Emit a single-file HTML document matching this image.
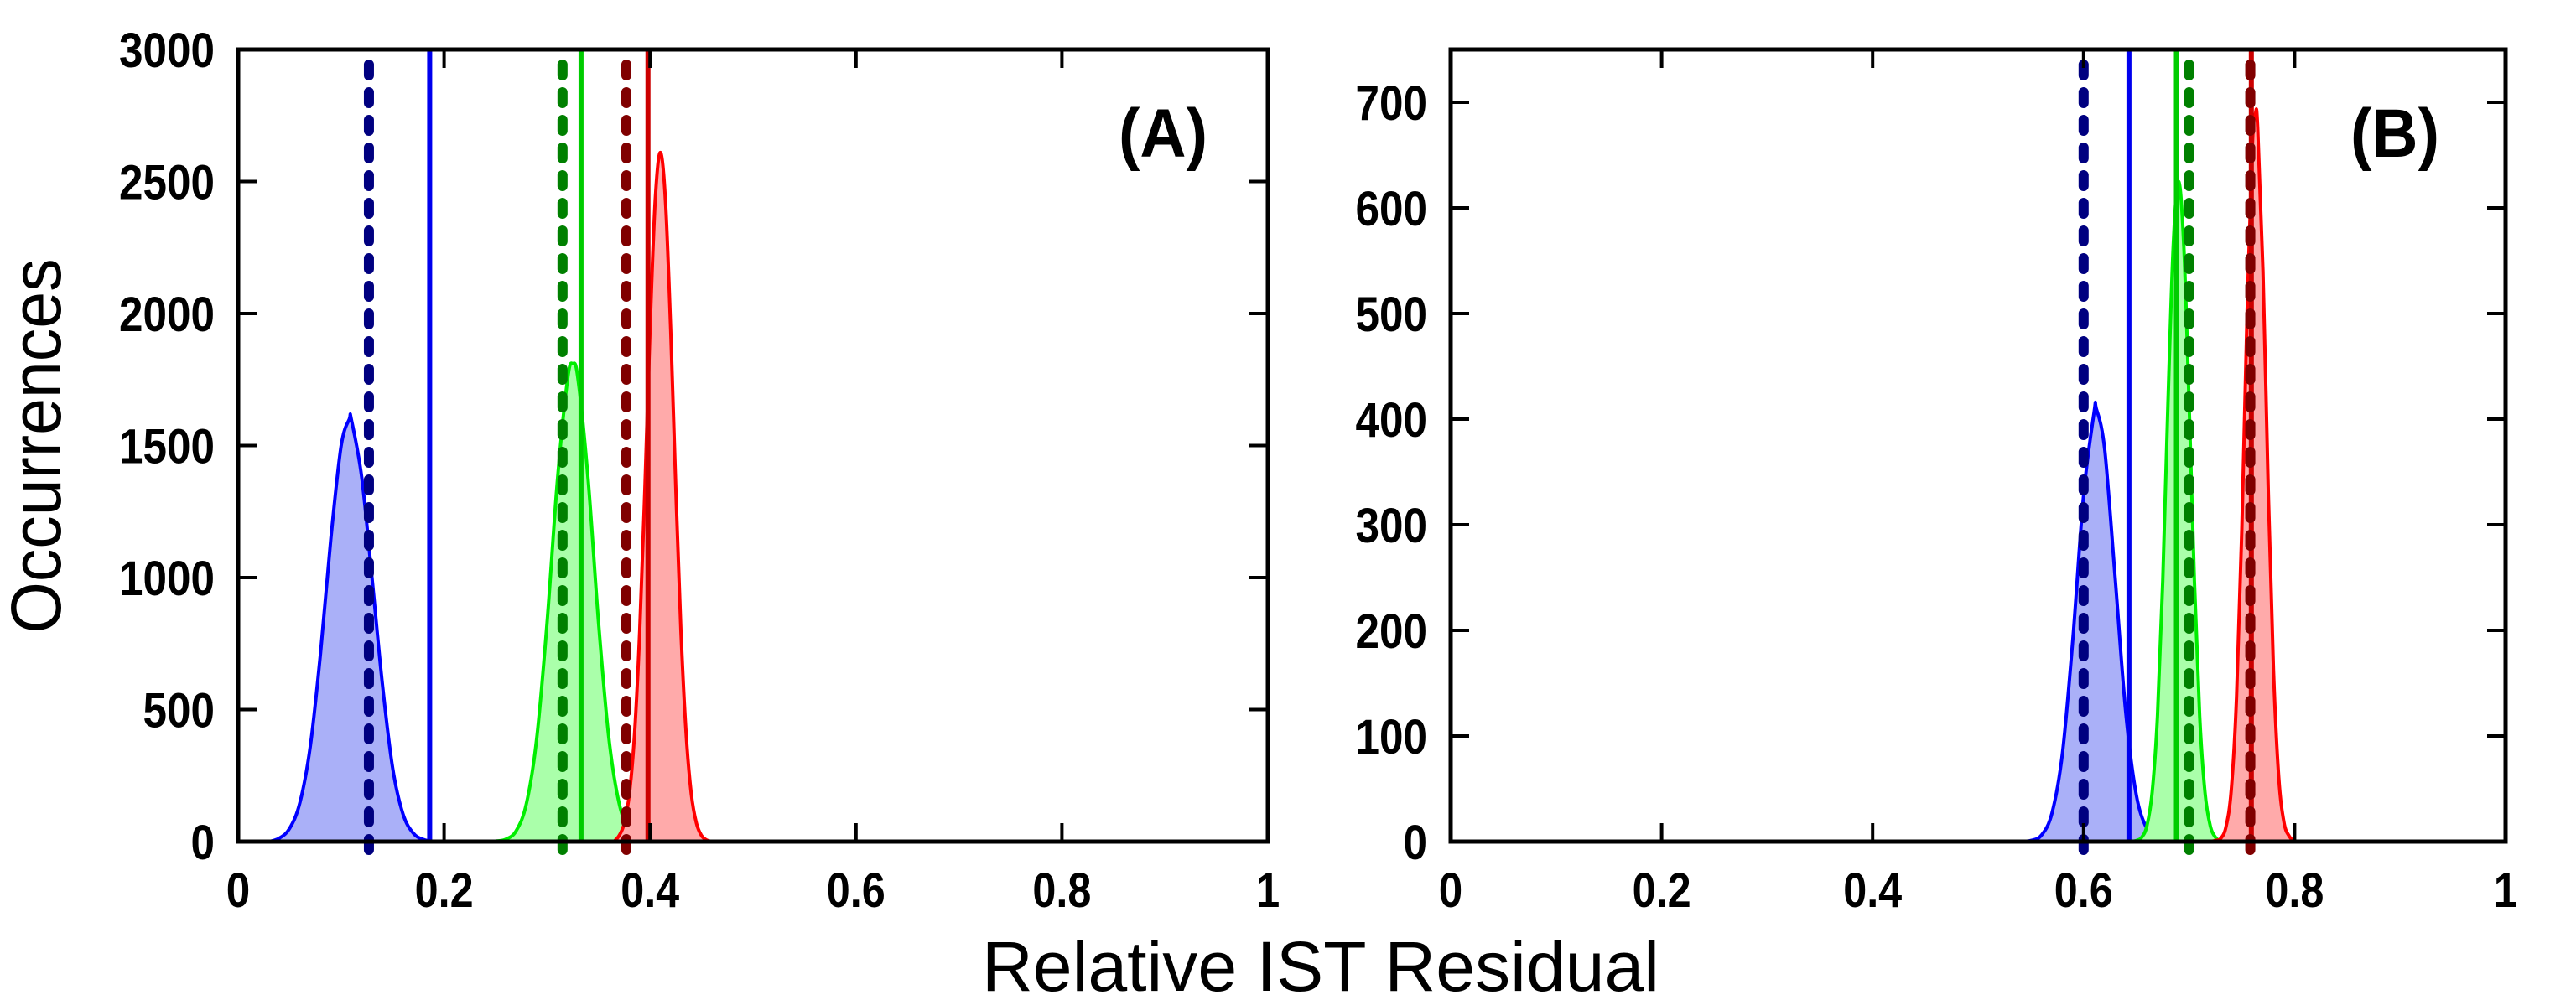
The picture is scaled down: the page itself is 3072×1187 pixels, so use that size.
<!DOCTYPE html>
<html><head><meta charset="utf-8"><style>
html,body{margin:0;padding:0;background:#fff;}
svg{display:block;font-family:"Liberation Sans",sans-serif;}
</style></head><body>
<svg id="chart" width="3072" height="1187" viewBox="0 0 3072 1187" xmlns="http://www.w3.org/2000/svg">
<rect width="3072" height="1187" fill="#fff"/>
<g id="panelA"></g>
<g id="panelB"></g>
<text transform="translate(72,532) rotate(-90)" text-anchor="middle" font-size="84" textLength="447" lengthAdjust="spacingAndGlyphs">Occurrences</text>
<text x="1575" y="1182" text-anchor="middle" font-size="84" textLength="808" lengthAdjust="spacingAndGlyphs">Relative IST Residual</text>
</svg>
<script>
// ---- Panel A data ----
const aBlueX = [0.03,0.04,0.05,0.06,0.07,0.08,0.09,0.10,0.108,0.11,0.12,0.13,0.14,0.15,0.16,0.17,0.18,0.19];
const aBlueY = [0,13,50,148,360,712,1145,1498,1600,1597,1379,1000,600,280,105,32,8,0];
const aGreenX = [0.24,0.25,0.26,0.27,0.28,0.29,0.30,0.31,0.32,0.325,0.33,0.34,0.35,0.36,0.37,0.38,0.39];
const aGreenY = [0,2,9,41,144,392,829,1366,1754,1810,1754,1366,829,392,144,41,0];
const aRedX = [0.365,0.37,0.375,0.38,0.385,0.39,0.395,0.40,0.405,0.41,0.415,0.42,0.425,0.43,0.435,0.44,0.445,0.45,0.455,0.46];
const aRedY = [0,23,70,182,411,799,1341,1941,2425,2610,2425,1941,1341,799,411,182,70,23,6,0];
const aLinesX = [0.127,0.186,0.315,0.333,0.377,0.398];
// ---- Panel B data ----
const bBlueX = [0.54,0.55,0.56,0.57,0.58,0.59,0.60,0.61,0.612,0.62,0.63,0.64,0.65,0.66,0.67];
const bBlueY = [0,1,6,27,84,194,328,407,410,371,249,122,44,12,0];
const bGreenX = [0.645,0.65,0.655,0.66,0.665,0.67,0.675,0.68,0.685,0.69,0.695,0.70,0.705,0.71,0.715,0.72,0.725,0.73];
const bGreenY = [0,1,4,15,47,119,247,415,564,625,564,415,247,119,47,15,4,0];
const bRedX = [0.72,0.725,0.73,0.735,0.74,0.745,0.75,0.755,0.76,0.763,0.765,0.77,0.775,0.78,0.785,0.79,0.795,0.80];
const bRedY = [0,1,3,14,49,137,296,501,660,690,676,540,336,163,61,18,5,0];
const bLinesX = [0.60,0.643,0.688,0.70,0.759,0.758];
const xTicks = [0,0.2,0.4,0.6,0.8,1];
const xTickLabels = ["0","0.2","0.4","0.6","0.8","1"];
const aYTicks = [0,500,1000,1500,2000,2500,3000];
const bYTicks = [0,100,200,300,400,500,600,700];

const NS="http://www.w3.org/2000/svg";
function mk(parent,tag,attrs){const e=document.createElementNS(NS,tag);for(const k in attrs)e.setAttribute(k,attrs[k]);parent.appendChild(e);return e;}
function labW(s){let w=0;for(const ch of s)w+=(ch==='.')?13:28.5;return w;}
function smooth(pts){
  let d='M'+pts[0][0].toFixed(1)+','+pts[0][1].toFixed(1);
  for(let i=0;i<pts.length-1;i++){
    const p0=pts[Math.max(0,i-1)],p1=pts[i],p2=pts[i+1],p3=pts[Math.min(pts.length-1,i+2)];
    let c1y=p1[1]+(p2[1]-p0[1])/6, c2y=p2[1]-(p3[1]-p1[1])/6;
    const lo=Math.min(p1[1],p2[1]), hi=Math.max(p1[1],p2[1]);
    const B=pts[0][1];
    c1y=Math.min(c1y,B);c2y=Math.min(c2y,B);
    d+=' C'+(p1[0]+(p2[0]-p0[0])/6).toFixed(1)+','+c1y.toFixed(1)+' '+(p2[0]-(p3[0]-p1[0])/6).toFixed(1)+','+c2y.toFixed(1)+' '+p2[0].toFixed(1)+','+p2[1].toFixed(1);
  }
  return d;
}

function panel(g,L,R,T,B,ymax,yTicks,series,lines,lineStyles,label,labelX){
  const sx=v=>L+(R-L)*v, sy=v=>B-(B-T)*v/ymax;
  series.forEach(s=>{
    const pts=s.x.map((v,i)=>[sx(v),sy(s.y[i])]);
    const ld=smooth(pts);
    const f=mk(g,'path',{d:ld+' Z',fill:s.fill,stroke:'none'});
    
    
    const c=mk(g,'path',{d:ld,fill:'none',stroke:s.stroke,'stroke-width':4,'stroke-linejoin':'round'});
    
    
  });
  lines.forEach((v,i)=>{
    const st=lineStyles[i];
    let ln;
    if(st.dash){
      ln=mk(g,'line',{x1:sx(v),x2:sx(v),y1:T+18,y2:B+14,stroke:st.c,'stroke-width':12,'stroke-dasharray':'13 20','stroke-linecap':'round'});
    } else {
      ln=mk(g,'line',{x1:sx(v),x2:sx(v),y1:T,y2:B,stroke:st.c,'stroke-width':6});
    }
    
    
  });
  xTicks.forEach((v,i)=>{
    const x=sx(v);
    mk(g,'line',{x1:x,x2:x,y1:B,y2:B-22,stroke:'#000','stroke-width':4});
    mk(g,'line',{x1:x,x2:x,y1:T,y2:T+22,stroke:'#000','stroke-width':4});
    const s=xTickLabels[i];
    const t=mk(g,'text',{x:x,y:B+78,'text-anchor':'middle','font-size':58,'font-weight':'bold',textLength:labW(s),lengthAdjust:'spacingAndGlyphs'});
    t.textContent=s;
    
    
  });
  yTicks.forEach(v=>{
    const y=sy(v);
    mk(g,'line',{x1:L,x2:L+22,y1:y,y2:y,stroke:'#000','stroke-width':4});
    mk(g,'line',{x1:R,x2:R-22,y1:y,y2:y,stroke:'#000','stroke-width':4});
    const s=String(v);
    const t=mk(g,'text',{x:L-28,y:y+21,'text-anchor':'end','font-size':58,'font-weight':'bold',textLength:labW(s),lengthAdjust:'spacingAndGlyphs'});
    t.textContent=s;
    
    
  });
  const fr=mk(g,'rect',{x:L,y:T,width:R-L,height:B-T,fill:'none',stroke:'#000','stroke-width':5});
  
  
  const pl=mk(g,'text',{x:labelX,y:T+128,'font-size':82,'font-weight':'bold',textLength:106,lengthAdjust:'spacingAndGlyphs'});
  pl.textContent=label;
  
  
}
const styA=[{c:'#000080',dash:1,n:'navy-dashed-line'},{c:'#0000ee',n:'blue-solid-line'},{c:'#008000',dash:1,n:'darkgreen-dashed-line'},{c:'#00cc00',n:'green-solid-line'},{c:'#800000',dash:1,n:'darkred-dashed-line'},{c:'#cc0000',n:'red-solid-line'}];
const styB=[{c:'#000080',dash:1,n:'navy-dashed-line'},{c:'#0000ee',n:'blue-solid-line'},{c:'#00cc00',n:'green-solid-line'},{c:'#008000',dash:1,n:'darkgreen-dashed-line'},{c:'#cc0000',n:'red-solid-line'},{c:'#800000',dash:1,n:'darkred-dashed-line'}];
const fills={b:'#aab0f8',g:'#aaffaa',r:'#ffaaaa'};
panel(document.getElementById('panelA'),284,1512,59,1004,3000,aYTicks,
 [{x:aBlueX,y:aBlueY,fill:fills.b,stroke:'#0000ff',name:'blue-distribution'},
  {x:aGreenX,y:aGreenY,fill:fills.g,stroke:'#00ee00',name:'green-distribution'},
  {x:aRedX,y:aRedY,fill:fills.r,stroke:'#ff0000',name:'red-distribution'}],
 aLinesX,styA,'(A)',1334);
panel(document.getElementById('panelB'),1730,2988,59,1004,750,bYTicks,
 [{x:bBlueX,y:bBlueY,fill:fills.b,stroke:'#0000ff',name:'blue-distribution'},
  {x:bGreenX,y:bGreenY,fill:fills.g,stroke:'#00ee00',name:'green-distribution'},
  {x:bRedX,y:bRedY,fill:fills.r,stroke:'#ff0000',name:'red-distribution'}],
 bLinesX,styB,'(B)',2803);
</script>
</body></html>
